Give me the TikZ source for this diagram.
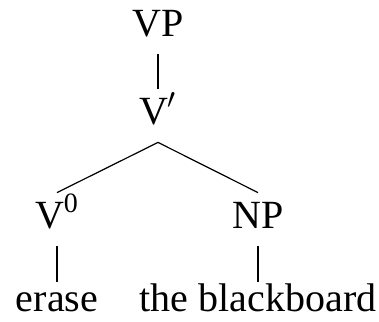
\documentclass[tikz,border=0pt]{standalone}
\usepackage{fontspec}
\setmainfont{Liberation Serif}
\usetikzlibrary{positioning}

\begin{document}
\begin{tikzpicture}
  [x=0.5pt,y=-0.5pt,
  cat/.style={anchor=base,inner xsep=1pt,inner ysep=4.5pt,text height=13pt,text depth=4.5pt,font=\fontsize{20pt}{24pt}\selectfont},
  leaf/.style={cat,text height=10pt},
  branch/.style={black,line width=0.6pt}]
  \useasboundingbox (0,0) rectangle (379,321);
  \node[cat] (vp) at (158,36) {VP};
  \node[cat] (vbar) at (158,124) {V$'$};
  \node[cat] (v0) at (57,228) {V\textsuperscript{0}};
  \node[cat] (np) at (258,228) {NP};
  \node[leaf] (erase) at (57,311) {erase};
  \node[leaf] (board) at (258,311) {the blackboard};

  \draw [branch] (vp.south) -- (vbar.north);
  \draw [branch] (vbar.south) -- (v0.north);
  \draw [branch] (vbar.south) -- (np.north);
  \draw [branch] (v0.south) -- (erase.north);
  \draw [branch] (np.south) -- (board.north);
\end{tikzpicture}
\end{document}
